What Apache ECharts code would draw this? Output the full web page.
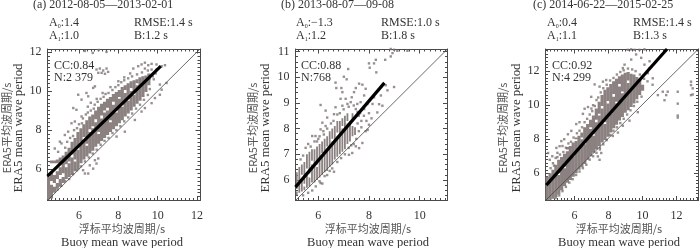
<!DOCTYPE html>
<html><head><meta charset="utf-8">
<style>html,body{margin:0;padding:0;background:#fff}#c{width:700px;height:248px}</style>
<script src="https://cdn.jsdelivr.net/npm/echarts@6/dist/echarts.min.js"></script>
</head><body><div id="c"></div>
<script>
// Dense part of each cloud, read column by column: [x, lo, hi, lo, hi, ...]
const cloudA = [
[4.45,4.45,5.6],[4.6,4.5,5.2,5.4,5.9,6.3,6.45],[4.75,4.8,5.1,5.3,5.7,6.3,6.45],[4.9,5.0,5.3,5.5,5.9,6.3,6.5],
[5.05,5.1,5.5,5.7,6.1,6.3,6.6],[5.2,5.3,5.6,5.8,6.7],[5.35,5.5,6.1,6.25,6.9],[5.5,5.6,6.3,6.4,7.1],[5.65,5.7,6.6,6.75,7.4],
[5.8,5.9,6.4,6.5,7.6],[5.95,6.0,7.0,7.15,7.9],[6.1,6.3,7.3,7.4,8.1],[6.25,6.5,7.5,7.65,8.3],[6.4,6.65,7.2,7.3,8.5],[6.55,6.8,7.9,8.05,8.7],
[6.7,6.95,8.1,8.2,8.8],[6.85,7.15,8.4,8.55,9.0],[7.0,7.3,7.8,7.9,9.2],[7.15,7.45,8.6,8.75,9.35],[7.3,7.6,8.9,9.0,9.45],[7.45,7.75,9.0,9.15,9.6],
[7.6,7.9,8.4,8.5,9.7],[7.75,8.05,9.3,9.45,9.85],[7.9,8.2,8.9,9.0,9.95],[8.05,8.35,9.6,9.7,10.05],[8.2,8.5,9.2,9.3,10.2],[8.35,8.7,9.9,10.05,10.3],
[8.5,8.85,9.5,9.6,10.4],[8.65,9.0,10.0,10.15,10.5],[8.8,9.2,9.8,9.9,10.55],[8.95,9.35,10.3,10.4,10.6],[9.1,9.5,10.7],[9.25,9.7,10.75],[9.4,9.95,10.8],[9.55,10.3,10.9]
];
const pointsA = [[6.3,12.05],[6.7,11.95],[7.0,12.1],[7.4,12.0],[6.89,11.1],[7.06,11.15],[7.23,11.05],[7.4,11.15],[7.48,10.98],[6.98,10.93],[7.15,10.93],[7.32,10.88],
[8.76,11.15],[9.01,11.27],[9.18,11.36],[9.35,11.45],[9.52,11.32],[9.69,11.39],[9.94,11.36],[10.2,11.27],[10.37,11.32],[9.35,11.15],[9.69,11.1],[9.94,11.1],
[5.96,9.81],[6.38,9.9],[5.71,9.13],[5.87,9.04],[6.13,9.56],[6.47,9.73],[6.72,10.16],[6.81,10.24],[5.45,7.92],[5.03,7.41],[5.11,7.32],[4.77,7.06],[4.94,6.89],[5.28,7.75],[5.79,8.44],[6.13,8.7],[5.62,8.35],
[10.11,10.33],[10.2,10.07],[10.11,9.81],[9.86,9.64],[9.69,9.38],[9.35,9.13],[10.45,10.41],[9.18,8.95],[8.84,8.52],[8.33,7.92],[7.91,7.67],[6.98,6.55],[6.81,6.46],[6.89,6.29],[6.72,6.03],[6.47,5.78],[6.3,5.78],[6.21,5.95],[6.55,6.2],
[6.45,9.2],[6.6,9.4],[6.9,9.6],[7.2,9.9],[7.6,10.2],[8.0,10.5],[8.3,10.7],[8.6,10.9],[9.8,10.6],[9.9,10.9],
[5.3,7.1],[5.4,7.4],[5.55,7.6],[5.7,7.7],[5.75,8.0],[5.9,8.1],[6.0,8.3],[6.15,8.35],[6.2,8.6],[6.35,8.8],[6.45,8.9],[6.6,9.0],[6.75,9.1],[6.8,9.3],[6.95,9.45],[7.1,9.6],[7.25,9.7],[7.35,9.85],[7.5,9.9],[7.7,10.05],[7.85,10.2],[8.0,10.3],[8.15,10.45],[8.3,10.55],[8.5,10.65],[8.7,10.75],[8.95,10.85],[9.2,10.95],[9.5,11.05],[9.6,10.65],[9.75,10.75],
[4.9,4.95],[5.1,5.15],[5.3,5.4],[5.5,5.5],[5.7,5.75],[5.9,5.95],[6.1,6.15],[6.3,6.4],[6.5,6.6],[6.7,6.8],[6.9,7.0],[7.1,7.25],[7.3,7.45],[7.5,7.6],[7.7,7.85],[7.9,8.0],[8.1,8.2],[8.3,8.45],[8.5,8.65],[8.7,8.85],[8.9,9.1],[9.1,9.3],[9.3,9.55],[9.5,9.8],[9.6,10.1]];
const fitA = [[4.4,5.65],[10.16,11.27]];

const cloudB = [
[5.15,5.4,5.55,5.65,6.3],[5.25,5.5,5.85,5.95,6.5],[5.35,5.55,6.05,6.2,6.6],[5.45,5.6,5.75,5.85,6.7],[5.55,5.7,6.3,6.45,7.0],
[5.65,5.75,6.1,6.25,7.1],[5.75,5.9,6.6,6.75,7.2],[5.85,5.9,7.2],[5.95,6.0,6.5,6.6,7.3],[6.05,6.1,7.4],[6.15,6.2,6.9,7.05,7.5],
[6.25,6.3,7.6],[6.35,6.35,7.2,7.3,7.7],[6.45,6.5,7.9],[6.55,6.6,7.5,7.6,8.0],[6.65,6.8,8.1],[6.75,6.9,7.7,7.85,8.3],
[6.85,7.0,8.3],[6.95,7.1,8.0,8.1,8.4],[7.05,7.2,8.5],[7.15,7.4,8.2,8.3,8.6],[7.25,7.5,8.3],[7.35,7.7,8.1,8.3,8.6],[7.45,7.75,8.05]
];
const pointsB = [[8.86,11.1],[8.99,11.07],[8.93,10.94],[8.86,10.81],[9.12,11.03],[9.52,11.03],[8.27,10.68],[8.2,10.54],[8.0,10.54],[8.03,10.37],
[7.18,10.32],[7.01,10.02],[7.12,9.92],[6.68,9.79],[6.71,9.58],[6.91,9.58],[8.29,10.19],[8.64,10.68],[7.61,9.75],[7.74,9.71],[7.87,9.55],[7.48,9.58],[7.41,9.42],[7.81,9.29],[6.95,9.42],[7.08,9.16],[7.32,9.22],[7.15,8.96],[7.28,9.03],[6.88,9.16],[6.95,8.89],
[6.09,8.92],[6.29,8.7],[6.35,8.43],[6.68,8.83],[6.62,8.56],[8.66,9.69],[8.73,9.49],[8.99,9.62],[8.53,8.89],[8.47,9.29],[8.33,8.63],[8.2,9.22],[8.14,8.96],[7.94,8.96],[7.81,8.76],[7.67,9.03],[7.54,8.96],[7.48,8.76],
[6.16,8.23],[6.29,8.1],[6.09,7.97],[5.89,7.71],[5.76,7.71],[6.22,7.77],[7.87,7.9],[7.74,7.44],[7.61,7.24],[7.48,7.31],[7.34,7.05],[7.21,6.98],[6.62,6.32],[6.35,6.19],[6.16,5.86],[6.09,5.88],[5.76,5.59],
[7.6,8.5],[7.7,8.3],[7.55,8.2],[7.8,8.5],[8.0,8.6],[7.9,8.3],[5.7,7.3],[6.0,7.6],
[5.3,6.8],[5.4,6.95],[5.5,7.25],[5.6,7.4],[5.85,7.5],[5.95,7.5],[6.05,7.7],[6.2,7.9],[6.35,8.0],[6.5,8.2],[6.6,8.3],[6.75,8.55],[6.85,8.6],[7.0,8.75],[7.2,8.85],[7.4,8.9],[7.55,8.65],[7.65,8.6],[7.7,8.05],[7.6,7.9],[7.5,7.6],[7.4,7.4],[7.3,7.35],[7.2,7.25],[7.05,7.0],[6.9,6.85],[6.75,6.7],[6.55,6.45],[6.45,6.35],[6.25,6.15],[6.05,5.95],[5.9,5.75],[5.6,5.5],[5.4,5.4],[7.95,7.95],[8.1,8.4],[8.0,8.15],[8.4,8.95]];
const fitB = [[5.1,5.72],[8.61,9.78]];

const cloudC = [
[4.4,4.42,5.8],[4.57,4.45,6.0],[4.74,4.5,6.2],[4.91,4.6,6.5],[5.08,4.75,5.9,6.0,6.8],[5.25,5.0,6.95],[5.42,5.25,6.3,6.4,7.15],[5.59,5.45,7.3,7.4,7.55],[5.76,5.6,7.6],[5.93,5.8,7.0,7.1,7.8],
[6.1,6.0,7.9,8.0,8.1],[6.27,6.2,7.4,7.5,8.2],[6.44,6.35,8.0,8.1,8.4],[6.61,6.55,7.7,7.8,8.7],[6.78,6.8,8.9],[6.95,7.0,8.6,8.7,9.15],[7.12,7.2,8.2,8.3,9.4],[7.29,7.4,9.0,9.15,9.8],[7.46,7.6,9.4,9.5,10.2],[7.63,7.8,9.8,9.95,10.6],
[7.8,7.95,8.9,9.0,10.9],[7.97,8.15,10.1,10.25,11.05],[8.14,8.4,9.5,9.6,11.25],[8.31,8.65,10.5,10.65,11.4],[8.48,8.85,10.1,10.2,11.55],[8.65,9.1,11.1,11.25,11.7],[8.82,9.3,10.7,10.8,11.8],[8.99,9.55,11.9],[9.16,9.7,11.3,11.45,11.95],[9.33,9.9,11.85],
[9.5,10.1,11.8],[9.67,10.35,11.65],[9.84,10.6,11.5],[10.01,10.85,11.2]
];
const pointsC = [[9.14,13.25],[9.34,13.28],[9.54,13.25],[9.83,13.25],[10.12,13.28],[8.95,12.38],[8.85,12.18],[9.34,12.68],[9.63,12.98],[9.93,12.78],[10.42,12.58],[10.12,12.38],[10.42,12.18],[10.32,11.88],[10.61,11.58],
[10.91,10.59],[11.3,10.29],[11.4,10.59],[11.2,10.79],[11.49,10.79],[12.08,10.79],[12.08,10.09],[12.08,9.39],[12.08,9.27],[9.73,9.59],[12.86,11.38],[12.86,11.18],[12.96,10.99],[12.86,10.59],[12.96,10.63],
[7.19,11.22],[7.48,11.09],[7.68,11.38],[7.87,11.48],[6.99,10.49],[6.6,9.79],[6.5,9.49],[6.8,9.89],[6.11,8.89],[5.82,8.49],[5.23,7.89],[5.13,7.59],[4.94,7.49],[5.62,8.29],[4.55,6.79],[4.74,6.59],[4.45,7.19],
[7.38,6.99],[7.58,7.19],[7.48,6.79],[7.5,7.4],[8.56,8.39],[8.26,8.19],[8.85,8.79],[9.24,9.09],[7.3,10.3],[7.1,10.0],[7.0,9.8],[6.3,9.0],[5.4,8.0],[5.3,7.6],[4.7,7.0],[4.9,6.9],[5.0,7.2],[10.6,11.2],[10.3,11.4],
[4.6,6.3],[4.8,6.45],[5.0,6.95],[5.15,7.1],[5.35,7.25],[5.5,7.5],[5.65,7.75],[5.8,7.85],[5.95,8.1],[6.15,8.35],[6.3,8.5],[6.45,8.7],[6.6,9.0],[6.75,9.2],[6.9,9.45],[7.05,9.65],[7.2,9.95],[7.4,10.45],[7.55,10.75],[7.7,11.0],[7.9,11.2],[8.1,11.45],[8.3,11.6],[8.5,11.8],[8.7,11.95],[8.9,12.05],[9.15,12.15],[9.4,12.1],[9.6,12.0],[9.85,11.8],[10.1,11.55],
[4.9,4.55],[5.1,4.7],[5.3,4.95],[5.5,5.2],[5.7,5.45],[5.9,5.65],[6.1,5.9],[6.3,6.1],[6.5,6.3],[6.7,6.5],[6.9,6.8],[7.1,7.0],[7.3,7.2],[7.5,7.5],[7.7,7.7],[7.9,7.95],[8.1,8.25],[8.3,8.5],[8.5,8.7],[8.7,8.95],[8.9,9.2],[9.1,9.45],[9.3,9.7],[9.5,9.95],[9.7,10.2],[9.95,10.5]];
const fitC = [[4.35,5.3],[11.45,13.3]];

const panels = [
 {cloud:cloudA,points:pointsA,fit:fitA,xr:[4.4,12.15],yr:[4.4,12.15],xt:[6,8,10,12],yt:[6,8,10,12],
  left:47.5,width:152.5,w:3.2,title:'(a) 2012-08-05—2013-02-01',a0:'1.4',a1:'1.0',rmse:'1.4 s',b:'1.2 s',cc:'0.84',n:'2 379',
  tx:33,ax:49,rx:134,ccx:54,yl1:7,yl2:19,cx:122},
 {cloud:cloudB,points:pointsB,fit:fitB,xr:[5.1,11.1],yr:[5.2,11.1],xt:[6,8,10],yt:[6,7,8,9,10,11],
  left:295.5,width:152,w:1.8,title:'(b) 2013-08-07—09-08',a0:'−1.3',a1:'1.2',rmse:'1.0 s',b:'1.8 s',cc:'0.88',n:'768',
  tx:281,ax:296,rx:381,ccx:301,yl1:253,yl2:266,cx:368},
 {cloud:cloudC,points:pointsC,fit:fitC,xr:[4.3,13.3],yr:[4.4,13.3],xt:[6,8,10,12],yt:[6,8,10,12],
  left:545.5,width:153,w:3.2,title:'(c) 2014-06-22—2015-02-25',a0:'0.4',a1:'1.1',rmse:'1.4 s',b:'1.3 s',cc:'0.92',n:'4 299',
  tx:533,ax:547,rx:633,ccx:552,yl1:503,yl2:517,cx:619}
];
const TOP=49, H=151.5, INK='#4a4a4a', TXT='#333', SERIF='"Liberation Serif",serif', CJK='"Noto Sans CJK SC",sans-serif';
const CLOUD='#8b8180', DOT='#7d7472';

function minors(r,step){const o=[];const s=Math.ceil(r[0]/step);for(let k=s;k*step<=r[1]+1e-9;k++)o.push(+(k*step).toFixed(2));return o;}
function axis(kind,g,r,pos,ticks,len,line,labels){
  return {type:'value',gridIndex:g,min:r[0],max:r[1],position:pos,splitLine:{show:false},
    axisLine:{show:line,onZero:false,lineStyle:{color:INK,width:1}},
    axisTick:{show:true,inside:true,length:len,customValues:ticks,lineStyle:{color:INK,width:1}},
    axisLabel:labels?{show:true,customValues:ticks,margin:kind==='x'?9:6,fontFamily:SERIF,fontSize:12,color:TXT}:{show:false}};
}
const option={animation:false,backgroundColor:'#fff',grid:[],xAxis:[],yAxis:[],series:[],graphic:[]};
function txt(x,y,text,style){option.graphic.push({type:'text',x:x,y:y,silent:true,
  style:Object.assign({text:text,fill:TXT,font:'11.5px '+SERIF,verticalAlign:'middle'},style||{})});}
panels.forEach((p,g)=>{
  option.grid.push({left:p.left,top:TOP,width:p.width,height:H});
  const xi=option.xAxis.length, yi=option.yAxis.length, m=0.2;
  option.xAxis.push(axis('x',g,p.xr,'bottom',p.xt,4.5,true,true),axis('x',g,p.xr,'top',p.xt,4.5,true,false),
    axis('x',g,p.xr,'bottom',minors(p.xr,m),2.5,false,false),axis('x',g,p.xr,'top',minors(p.xr,m),2.5,false,false));
  option.yAxis.push(axis('y',g,p.yr,'left',p.yt,4.5,true,true),axis('y',g,p.yr,'right',p.yt,4.5,true,false),
    axis('y',g,p.yr,'left',minors(p.yr,m),2.5,false,false),axis('y',g,p.yr,'right',minors(p.yr,m),2.5,false,false));
  const rows=[];p.cloud.forEach(c=>{for(let i=1;i<c.length;i+=2)rows.push([c[0],c[i],c[i+1]]);});
  option.series.push({type:'custom',xAxisIndex:xi,yAxisIndex:yi,data:rows,clip:true,silent:true,
    renderItem:(params,api)=>{const a=api.coord([api.value(0),api.value(1)]),b=api.coord([api.value(0),api.value(2)]);
      return {type:'rect',shape:{x:a[0]-p.w/2,y:b[1],width:p.w,height:a[1]-b[1]},style:{fill:CLOUD}};}});
  option.series.push({type:'scatter',xAxisIndex:xi,yAxisIndex:yi,data:p.points,symbol:'rect',symbolSize:2.4,itemStyle:{color:DOT},silent:true});
  option.series.push({type:'line',xAxisIndex:xi,yAxisIndex:yi,data:[[p.xr[0],p.yr[0]],[p.xr[1],p.yr[1]]],showSymbol:false,lineStyle:{color:'#444',width:0.8},silent:true});
  option.series.push({type:'line',xAxisIndex:xi,yAxisIndex:yi,data:p.fit,showSymbol:false,lineStyle:{color:'#000',width:3.2},silent:true,z:5});

  const sub={s:{fontSize:6,fontFamily:SERIF,fill:TXT,verticalAlign:'bottom',padding:[6,0,0,0]}};
  txt(p.tx,5,p.title,{font:'12px '+SERIF});
  txt(p.ax,23,'A{s|0}:'+p.a0,{rich:sub,font:'12px '+SERIF});
  txt(p.ax,36,'A{s|1}:'+p.a1,{rich:sub,font:'12px '+SERIF});
  txt(p.rx,23,'RMSE:'+p.rmse,{font:'12px '+SERIF});
  txt(p.rx,36,'B:'+p.b,{font:'12px '+SERIF});
  txt(p.ccx,66,'CC:'+p.cc,{font:'12px '+SERIF});
  txt(p.ccx,78,'N:'+p.n,{font:'12px '+SERIF});
  txt(p.cx,229,'浮标平均波周期/s',{font:'11px '+CJK,align:'center',fill:'#555'});
  txt(p.cx,243,'Buoy mean wave period',{font:'12.5px '+SERIF,align:'center'});
  option.graphic.push({type:'text',x:p.yl1,y:128,rotation:Math.PI/2,silent:true,style:{text:'ERA5平均波周期/s',font:'11px '+CJK,fill:'#555',align:'center',verticalAlign:'middle'}});
  option.graphic.push({type:'text',x:p.yl2,y:128,rotation:Math.PI/2,silent:true,style:{text:'ERA5 mean wave period',font:'12.8px '+SERIF,fill:TXT,align:'center',verticalAlign:'middle'}});
});
const chart=echarts.init(document.getElementById('c'),null,{renderer:'canvas'});
chart.setOption(option);
</script></body></html>
